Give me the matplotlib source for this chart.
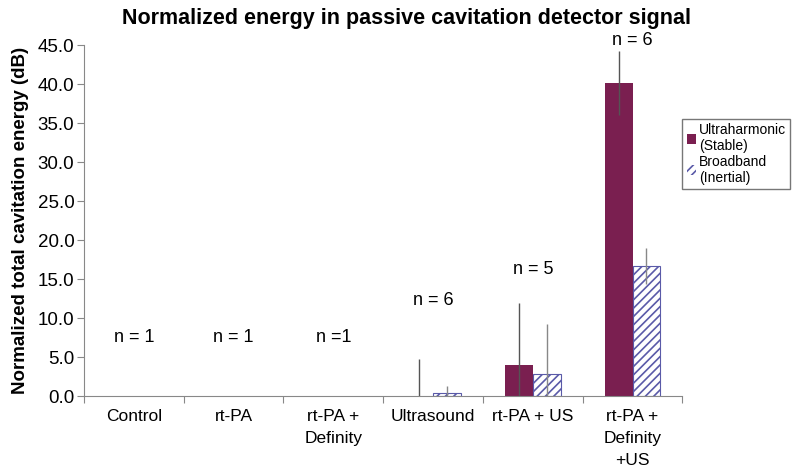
import numpy as np
import matplotlib.pyplot as plt

# Datos
categorias = ["Control", "rt-PA", "rt-PA +\nDefinity", "Ultrasound", "rt-PA + US", "rt-PA +\nDefinity\n+US"]
ultraharmonic = [0.0, 0.0, 0.0, 0.0, 4.0, 40.2]
ultraharmonic_err = [0.0, 0.0, 0.0, 4.8, 7.9, 4.1]
broadband = [0.0, 0.0, 0.0, 0.4, 2.8, 16.7]
broadband_err = [0.0, 0.0, 0.0, 0.9, 6.5, 2.3]
n_labels = ["n = 1", "n = 1", "n =1", "n = 6", "n = 5", "n = 6"]
n_pos = [7.5, 7.5, 7.5, 12.3, 16.2, 45.6]

plt.rcParams['font.family'] = ['Liberation Sans', 'DejaVu Sans']

fig = plt.figure(figsize=(8, 4.75), dpi=100)
ax = fig.add_axes([0.105, 0.166, 0.748, 0.739])

x = np.arange(len(categorias)) + 0.5
w = 0.28
color_u = '#7a1f50'
color_b = '#5a5aa8'

ax.bar(x - w / 2, ultraharmonic, w, color=color_u, linewidth=0,
       label="Ultraharmonic\n(Stable)", zorder=2)
plt.rcParams['hatch.color'] = color_b
plt.rcParams['hatch.linewidth'] = 1.2
# borde solo en barras con altura
lw_b = [0.8 if v > 0 else 0 for v in broadband]
ax.bar(x + w / 2, broadband, w, color='white', edgecolor=color_b, hatch='////',
       linewidth=lw_b, label="Broadband\n(Inertial)", zorder=2)

# Barras de error (solo donde hay)
for xi, v, e in zip(x - w / 2, ultraharmonic, ultraharmonic_err):
    if e > 0:
        ax.vlines(xi, max(v - e, 0), v + e, color='#555555', linewidth=1, zorder=3)
for xi, v, e in zip(x + w / 2, broadband, broadband_err):
    if e > 0:
        ax.vlines(xi, max(v - e, 0), v + e, color='#888888', linewidth=1, zorder=3)

for xi, txt, yy in zip(x, n_labels, n_pos):
    ax.text(xi, yy, txt, ha='center', va='center', fontsize=13, clip_on=False)

ax.set_xlim(0, len(categorias))
ax.set_ylim(0, 45)
ax.set_yticks(np.arange(0, 46, 5))
ax.set_yticklabels([f"{v:.1f}" for v in np.arange(0, 46, 5)], fontsize=13.5)
ax.set_xticks(np.arange(0, len(categorias) + 1))
ax.set_xticklabels([])
ax.set_xticks(x, minor=True)
ax.set_xticklabels(categorias, minor=True, fontsize=12.5, va='top', linespacing=1.6)
ax.tick_params(axis='x', which='minor', length=0, pad=9)
ax.tick_params(axis='x', which='major', length=5, direction='out', color='#888888')
ax.tick_params(axis='y', length=5, direction='out', color='#888888', pad=2)

for s in ['top', 'right']:
    ax.spines[s].set_visible(False)
for s in ['left', 'bottom']:
    ax.spines[s].set_color('#888888')

ax.set_ylabel("Normalized total cavitation energy (dB)", fontsize=13.5, fontweight='bold',
              labelpad=6)
fig.text(0.508, 0.962, "Normalized energy in passive cavitation detector signal",
         ha='center', va='center', fontsize=15.5, fontweight='bold')

leg = ax.legend(loc='upper left', bbox_to_anchor=(1.0, 0.79), fontsize=10,
                handlelength=0.7, handleheight=0.7, handletextpad=0.2,
                labelspacing=0.1, borderpad=0.3, borderaxespad=0,
                fancybox=False, edgecolor='#777777', framealpha=1)

fig.savefig("out.png", dpi=100)
